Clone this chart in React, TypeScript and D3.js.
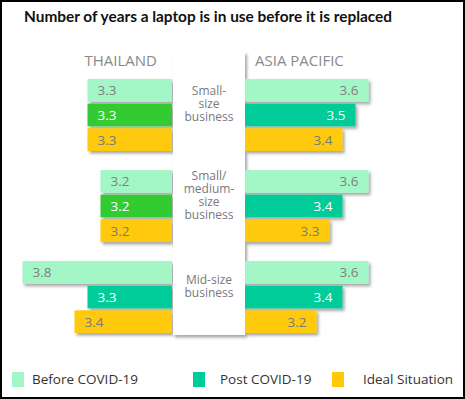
import React from 'react';
import * as d3 from 'd3';

const groups = ['Small-size business', 'Small/medium-size business', 'Mid-size business'];
const groupLines = [['Small-', 'size', 'business'], ['Small/', 'medium-', 'size', 'business'], ['Mid-size', 'business']];
const series = ['Before COVID-19', 'Post COVID-19', 'Ideal Situation'];

const thailandBefore = [3.3, 3.2, 3.8];
const thailandPost = [3.3, 3.2, 3.3];
const thailandIdeal = [3.3, 3.2, 3.4];

const asiaBefore = [3.6, 3.6, 3.6];
const asiaPost = [3.5, 3.4, 3.4];
const asiaIdeal = [3.4, 3.3, 3.2];

const W = 465;
const H = 399;
const colors = ['#a3f7c6', '#00cc99', '#ffc907'];
const thaiPostColors = ['#33cc33', '#33cc33', '#00cc99'];
const labelColors = ['#808080', '#ffffff', '#7a7a7a'];

const App = () => {
  const thai = [thailandBefore, thailandPost, thailandIdeal];
  const asia = [asiaBefore, asiaPost, asiaIdeal];

  const yGroup = d3.scaleBand<string>().domain(groups).range([79, 333]).paddingInner(0.21);
  const ySeries = d3.scaleBand<string>().domain(series).range([0, yGroup.bandwidth()]).paddingInner(0.08);
  const w = d3.scaleLinear().domain([2.65, 3.8]).range([0, 149.5]);

  const leftEdge = 172;
  const rightEdge = 245;
  const font = "'Open Sans', sans-serif";

  return (
    <svg width={W} height={H} style={{ position: 'absolute', left: 0, top: 0, background: '#fff' }}>
      <defs>
        <filter id="sh" x="-10%" y="-20%" width="130%" height="160%">
          <feDropShadow dx="2" dy="2.5" stdDeviation="1.5" floodColor="#000" floodOpacity="0.35" />
        </filter>
      </defs>
      <rect x={1} y={1} width={W - 2} height={H - 2} fill="#fff" stroke="#000" strokeWidth={2} />
      <text x={24} y={22} fontFamily="Lato, sans-serif" fontWeight="bold" fontSize={15.5} fill="#111" textLength={368} lengthAdjust="spacingAndGlyphs">
        Number of years a laptop is in use before it is replaced
      </text>

      <text x={157} y={66} textAnchor="end" fontFamily={font} fontSize={15} fill="#8a8a8a">THAILAND</text>
      <text x={255} y={66} fontFamily={font} fontSize={15} fill="#8a8a8a">ASIA PACIFIC</text>

      {/* center panel shadow */}
      <rect x={173} y={52} width={72} height={283} fill="#fff" filter="url(#sh)" />

      {groups.map((g, gi) => {
        const gy = yGroup(g)!;
        return (
          <g key={g}>
            {series.map((s, si) => {
              const y = gy + ySeries(s)!;
              const h = ySeries.bandwidth();
              const tv = thai[si][gi];
              const av = asia[si][gi];
              const tw = w(tv);
              const aw = w(av);
              const tFill = si === 1 ? thaiPostColors[gi] : colors[si];
              return (
                <g key={s}>
                  <rect x={leftEdge - tw} y={y} width={tw} height={h} fill={tFill} filter="url(#sh)" />
                  <rect x={rightEdge} y={y} width={aw} height={h} fill={colors[si]} filter="url(#sh)" />
                  <text x={leftEdge - tw + 10} y={y + h / 2 + 5} fontFamily={font} fontSize={13.5} fill={labelColors[si]}>
                    {tv.toFixed(1)}
                  </text>
                  <text x={rightEdge + aw - 10} y={y + h / 2 + 5} textAnchor="end" fontFamily={font} fontSize={13.5} fill={labelColors[si]}>
                    {av.toFixed(1)}
                  </text>
                </g>
              );
            })}
          </g>
        );
      })}

      <rect x={173} y={52} width={72} height={283} fill="#fff" />

      {groups.map((g, gi) => {
        const lines = groupLines[gi];
        const cy = yGroup(g)! + yGroup.bandwidth() / 2 - 11;
        const lh = 13;
        const top = cy - ((lines.length - 1) * lh) / 2;
        return (
          <text key={g} textAnchor="middle" fontFamily={font} fontSize={12} fill="#7a7a7a">
            {lines.map((l, li) => (
              <tspan key={li} x={209} y={top + li * lh + 4}>{l}</tspan>
            ))}
          </text>
        );
      })}

      {series.map((s, si) => {
        const xs = [12, 193, 332];
        const tx = [32, 220, 363];
        return (
          <g key={s}>
            <rect x={xs[si]} y={372} width={12} height={15} fill={colors[si]} />
            <text x={tx[si]} y={384} fontFamily={font} fontSize={13.5} fill="#333">{s}</text>
          </g>
        );
      })}
    </svg>
  );
};

export default App;
